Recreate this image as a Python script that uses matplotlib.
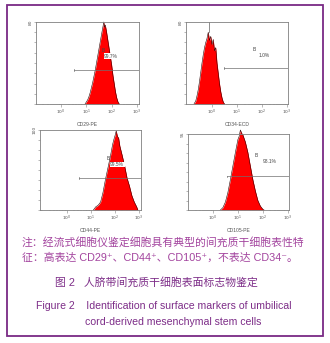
import matplotlib
matplotlib.use('Agg')
import matplotlib.pyplot as plt
import numpy as np
from matplotlib.patches import Rectangle

W, H = 330, 343

# histogram data (log10 fluorescence, cell count)
cd29_x = [0.95, 1.0, 1.05, 1.1, 1.15, 1.2, 1.25, 1.3, 1.35, 1.4, 1.45, 1.5, 1.55, 1.6,
          1.63, 1.66, 1.69, 1.72, 1.75, 1.8, 1.85, 1.9, 1.95, 2.0, 2.05, 2.1, 2.15, 2.2, 2.25, 2.3]
cd29_y = [0, 2, 4, 7, 11, 16, 21, 27, 33, 40, 47, 54, 61, 68,
          72, 76, 80, 75, 77, 70, 62, 54, 46, 38, 28, 20, 12, 6, 2, 0]

cd34_x = [-0.72, -0.65, -0.6, -0.55, -0.5, -0.45, -0.4, -0.35, -0.3, -0.25, -0.2, -0.15, -0.1,
          -0.05, 0.0, 0.05, 0.1, 0.15, 0.2, 0.25, 0.3, 0.35, 0.4, 0.45, 0.5]
cd34_y = [0, 3, 8, 14, 22, 31, 40, 48, 55, 60, 64, 70, 62,
          66, 58, 63, 52, 55, 40, 30, 20, 12, 6, 2, 0]

cd44_x = [1.1, 1.2, 1.3, 1.4, 1.5, 1.6, 1.7, 1.8, 1.85, 1.9, 1.95, 2.0, 2.05, 2.1,
          2.15, 2.2, 2.3, 2.4, 2.5, 2.6, 2.7, 2.8, 2.9, 2.95]
cd44_y = [0, 4, 6, 10, 22, 38, 52, 66, 74, 82, 88, 93, 99, 92,
          90, 80, 68, 55, 40, 30, 18, 10, 4, 0]

cd105_x = [0.3, 0.4, 0.5, 0.6, 0.7, 0.8, 0.9, 0.95, 1.0, 1.05, 1.1, 1.15, 1.2, 1.3,
           1.4, 1.5, 1.6, 1.7, 1.8, 1.9, 2.0, 2.05]
cd105_y = [0, 3, 10, 22, 38, 55, 72, 80, 88, 92, 100, 96, 94, 85,
           72, 55, 38, 24, 12, 5, 1, 0]

panels = [
    # name, x, y, box (px: left, top, right, bottom), xlim (log), ymax, ylabel, gate start, gate y, B pos, pct, pct pos
    ('CD29-PE', cd29_x, cd29_y, (36, 22, 139, 104), (-0.99, 3.08), 80, '80', 0.52, 33, (1.6, 51), '99.7%', (1.7, 45)),
    ('CD34-ECD', cd34_x, cd34_y, (186, 22, 288, 104), (-1.04, 3.04), 80, '80', 0.47, 35, (1.63, 52), '1.0%', (1.85, 46)),
    ('CD44-PE', cd44_x, cd44_y, (40, 130, 141, 210), (-1.12, 3.08), 100, '100', 0.5, 40, (1.67, 62), '99.5%', (1.8, 55)),
    ('CD105-PE', cd105_x, cd105_y, (188, 134, 289, 210), (-1.0, 3.05), 95, '95', 0.55, 42, (1.66, 66), '98.1%', (1.98, 59)),
]

fig = plt.figure(figsize=(W / 100, H / 100), dpi=100)
fig.patches.append(Rectangle((7 / W, 1 - 336 / H), 316 / W, 331 / H, transform=fig.transFigure,
                             fill=False, edgecolor='#7a2a85', linewidth=1.3))

grey = '#808080'
for name, xs, ys, box, xl, ymax, ylab, g0, gy, bpos, pct, ppos in panels:
    l, t, r, b = box
    ax = fig.add_axes([l / W, 1 - b / H, (r - l) / W, (b - t) / H])
    x = 10 ** np.array(xs)
    ax.fill_between(x, 0, ys, color='red', linewidth=0, clip_on=False)
    ax.plot(x, ys, color='#300000', linewidth=0.4, clip_on=False)
    ax.set_xscale('log')
    ax.set_xlim(10 ** xl[0], 10 ** xl[1])
    ax.set_ylim(0, ymax)
    for s in ax.spines.values():
        s.set_color(grey)
        s.set_linewidth(0.6)
    ax.set_xticks([1, 10, 100, 1000])
    ax.set_xticklabels(['$10^0$', '$10^1$', '$10^2$', '$10^3$'])
    ax.tick_params(axis='x', which='major', length=2, width=0.4, color=grey, labelsize=3.2,
                   labelcolor='#555555', pad=1)
    ax.tick_params(axis='x', which='minor', length=1, width=0.3, color=grey)
    ax.set_yticks(np.linspace(0, ymax, 9))
    ax.set_yticklabels([''] * 8 + [ylab], rotation=90, va='center')
    ax.tick_params(axis='y', length=1.5, width=0.4, color=grey, labelsize=3.2, labelcolor='#555555', pad=1)
    ax.set_xlabel(name, fontsize=3.6, color='#555555', labelpad=3, family='Liberation Sans')
    # gate
    ax.plot([10 ** g0, 10 ** xl[1]], [gy, gy], color='#707070', linewidth=0.5)
    ax.plot([10 ** g0, 10 ** g0], [gy - 1, gy + 1], color='#707070', linewidth=0.5)
    ax.text(10 ** bpos[0], bpos[1], 'B', fontsize=3.5, color='#444444', family='Liberation Sans')
    ax.text(10 ** ppos[0], ppos[1], pct, fontsize=3.5, color='#444444', family='Liberation Sans',
            bbox=dict(facecolor='white', edgecolor='none', pad=0.3))
    if name == 'CD34-ECD':
        ax.plot([10 ** -0.14, 10 ** -0.14], [70, ymax], color='#606060', linewidth=0.5)

cjk = ['Liberation Sans', 'Noto Sans CJK SC', 'DejaVu Sans']
note_c = '#a3449e'
cap_c = '#7d2d88'
fig.text(22 / W, 1 - 242 / H, '注：经流式细胞仪鉴定细胞具有典型的间充质干细胞表性特',
         fontsize=7.8, color=note_c, family=cjk, va='center')
fig.text(22 / W, 1 - 258 / H, '征：高表达 CD29⁺、CD44⁺、CD105⁺，不表达 CD34⁻。',
         fontsize=7.8, color=note_c, family=cjk, va='center')
fig.text(55 / W, 1 - 282 / H, '图 2   人脐带间充质干细胞表面标志物鉴定',
         fontsize=7.8, color=cap_c, family=cjk, va='center')
fig.text(36 / W, 1 - 306 / H, 'Figure 2    Identification of surface markers of umbilical',
         fontsize=7.6, color=cap_c, family=cjk, va='center')
fig.text(85 / W, 1 - 322 / H, 'cord-derived mesenchymal stem cells',
         fontsize=7.6, color=cap_c, family=cjk, va='center')

fig.savefig('out.png', dpi=100)
